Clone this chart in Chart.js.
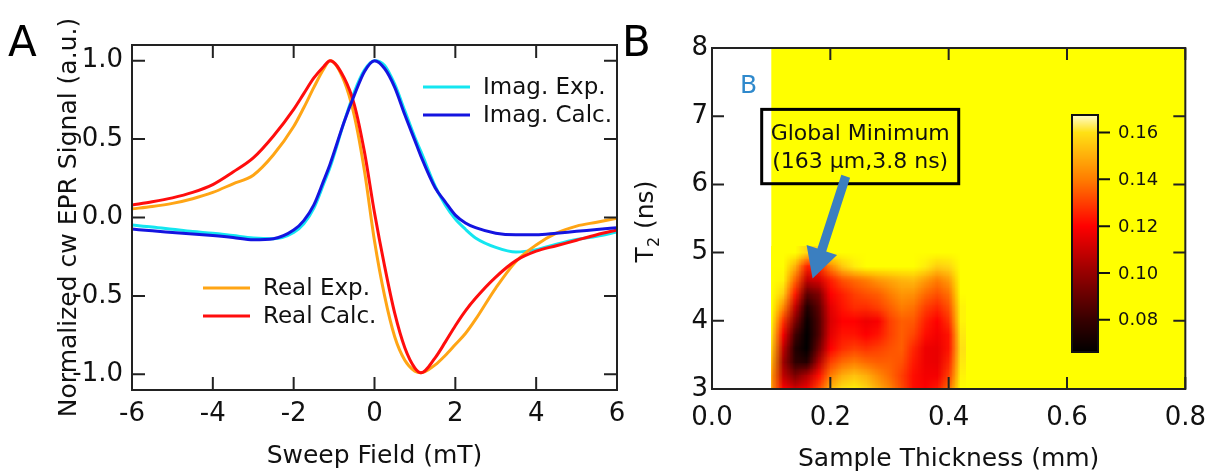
<!DOCTYPE html>
<html>
<head>
<meta charset="utf-8">
<script src="https://cdn.jsdelivr.net/npm/chart.js@4.4.1/dist/chart.umd.min.js"></script>
<style>
  html, body { margin: 0; padding: 0; background: #fff; }
  body { width: 1220px; height: 474px; position: relative; overflow: hidden; }
  canvas { position: absolute; top: 0; }
  #chartA { left: 0; }
  #chartB { left: 620px; }
</style>
</head>
<body>
<canvas id="chartA" width="640" height="474"></canvas>
<canvas id="chartB" width="600" height="474"></canvas>
<script>
// Painel A: campo de varredura (mT) e sinais normalizados
const sweepField = [-6, -5.5, -5, -4.5, -4, -3.5, -3, -2.5, -2, -1.75, -1.5, -1.25, -1.1, -0.75, -0.5, -0.25, 0, 0.25, 0.5, 0.75, 1, 1.15, 1.5, 1.75, 2, 2.25, 2.5, 3, 3.5, 4, 4.5, 5, 5.5, 6];
const imagExp  = [-0.048, -0.06, -0.075, -0.09, -0.10, -0.115, -0.13, -0.135, -0.095, -0.04, 0.06, 0.22, 0.32, 0.61, 0.80, 0.94, 1.0, 0.97, 0.85, 0.68, 0.51, 0.42, 0.20, 0.08, -0.01, -0.075, -0.13, -0.19, -0.22, -0.205, -0.17, -0.14, -0.12, -0.093];
const imagCalc = [-0.074, -0.085, -0.095, -0.105, -0.115, -0.127, -0.142, -0.135, -0.08, -0.02, 0.08, 0.24, 0.34, 0.61, 0.78, 0.93, 1.0, 0.95, 0.83, 0.655, 0.49, 0.39, 0.19, 0.10, 0.015, -0.035, -0.065, -0.10, -0.11, -0.11, -0.10, -0.088, -0.077, -0.065];
const realExp  = [0.055, 0.07, 0.09, 0.12, 0.16, 0.215, 0.27, 0.40, 0.58, 0.70, 0.83, 0.95, 1.0, 0.87, 0.65, 0.30, -0.15, -0.50, -0.76, -0.91, -0.98, -0.99, -0.94, -0.88, -0.81, -0.74, -0.65, -0.45, -0.28, -0.175, -0.10, -0.055, -0.03, -0.005];
const realCalc = [0.08, 0.10, 0.125, 0.16, 0.21, 0.29, 0.38, 0.52, 0.69, 0.79, 0.89, 0.965, 1.0, 0.89, 0.72, 0.42, 0.03, -0.31, -0.61, -0.83, -0.96, -0.99, -0.895, -0.795, -0.69, -0.595, -0.515, -0.38, -0.275, -0.215, -0.18, -0.145, -0.11, -0.08];

// Painel B: mapa do erro (espessura em mm x T2 em ns)
const thickness = [0.10, 0.12, 0.14, 0.16, 0.18, 0.20, 0.22, 0.24, 0.26, 0.28, 0.30, 0.32, 0.34, 0.36, 0.38, 0.40, 0.42];
const t2Values = [3.0, 3.2, 3.4, 3.6, 3.8, 4.0, 4.2, 4.4, 4.6, 4.8, 5.0];
const misfit = [
  [0.145, 0.120, 0.112, 0.118, 0.132, 0.152, 0.160, 0.164, 0.158, 0.150, 0.142, 0.132, 0.122, 0.120, 0.124, 0.138, 0.168],
  [0.145, 0.108, 0.095, 0.105, 0.122, 0.140, 0.150, 0.154, 0.150, 0.143, 0.137, 0.130, 0.122, 0.118, 0.118, 0.130, 0.165],
  [0.150, 0.102, 0.078, 0.075, 0.105, 0.130, 0.137, 0.140, 0.137, 0.135, 0.135, 0.133, 0.124, 0.117, 0.116, 0.126, 0.162],
  [0.155, 0.108, 0.075, 0.066, 0.092, 0.120, 0.127, 0.130, 0.128, 0.130, 0.133, 0.135, 0.126, 0.117, 0.116, 0.123, 0.160],
  [0.160, 0.118, 0.082, 0.066, 0.085, 0.115, 0.123, 0.123, 0.120, 0.123, 0.130, 0.135, 0.131, 0.122, 0.118, 0.123, 0.162],
  [0.165, 0.128, 0.095, 0.068, 0.085, 0.113, 0.120, 0.120, 0.117, 0.119, 0.130, 0.135, 0.134, 0.125, 0.120, 0.128, 0.165],
  [0.168, 0.142, 0.108, 0.074, 0.088, 0.115, 0.123, 0.127, 0.127, 0.130, 0.135, 0.140, 0.138, 0.130, 0.126, 0.133, 0.165],
  [0.170, 0.156, 0.124, 0.088, 0.095, 0.120, 0.125, 0.130, 0.133, 0.135, 0.140, 0.145, 0.144, 0.137, 0.133, 0.138, 0.168],
  [0.170, 0.165, 0.136, 0.108, 0.112, 0.125, 0.133, 0.137, 0.140, 0.145, 0.148, 0.151, 0.152, 0.146, 0.140, 0.146, 0.170],
  [0.170, 0.170, 0.150, 0.125, 0.126, 0.142, 0.155, 0.163, 0.168, 0.170, 0.170, 0.170, 0.168, 0.163, 0.156, 0.158, 0.170],
  [0.170, 0.170, 0.168, 0.158, 0.160, 0.168, 0.170, 0.170, 0.170, 0.170, 0.170, 0.170, 0.170, 0.170, 0.170, 0.170, 0.170]
];
const scanStart = 0.10;   // menor espessura calculada
const misfitOver = 0.17;  // acima da escala de cores
const barTicks = [0.08, 0.10, 0.12, 0.14, 0.16];
const barRange = [0.0662, 0.1675];
const globalMin = { label: ['Global Minimum', '(163 μm,3.8 ns)'] };

// Tabela de cores (estilo "YellowHot")
const heatStops = [
  [0.066, [0, 0, 0]],
  [0.08, [55, 0, 0]],
  [0.10, [150, 0, 0]],
  [0.12, [255, 0, 0]],
  [0.14, [255, 125, 0]],
  [0.16, [255, 225, 20]],
  [0.168, [255, 255, 0]]
];
const barStops = heatStops.slice(0, -1).concat([[0.1675, [255, 252, 205]]]);

function stopColor(stops, v) {
  if (v <= stops[0][0]) return stops[0][1];
  for (let i = 1; i < stops.length; i++) {
    if (v <= stops[i][0]) {
      const [v0, c0] = stops[i - 1];
      const [v1, c1] = stops[i];
      const t = (v - v0) / (v1 - v0);
      return c0.map((c, k) => Math.round(c + (c1[k] - c) * t));
    }
  }
  return stops[stops.length - 1][1];
}
const rgb = c => `rgb(${c[0]},${c[1]},${c[2]})`;

Chart.defaults.font.family = '"DejaVu Sans", sans-serif';
Chart.defaults.color = '#111';

// Moldura com marcas para dentro nos quatro lados
const framePlugin = {
  id: 'frame',
  afterDraw(chart, args, opts) {
    const { ctx, chartArea: a, scales: { x, y } } = chart;
    ctx.save();
    ctx.strokeStyle = '#222';
    ctx.lineWidth = 2;
    ctx.beginPath();
    x.ticks.forEach(t => {
      const px = x.getPixelForValue(t.value);
      ctx.moveTo(px, a.bottom); ctx.lineTo(px, a.bottom - opts.tick);
      ctx.moveTo(px, a.top); ctx.lineTo(px, a.top + opts.tick);
    });
    y.ticks.forEach(t => {
      const py = y.getPixelForValue(t.value);
      ctx.moveTo(a.left, py); ctx.lineTo(a.left + opts.tick, py);
      ctx.moveTo(a.right, py); ctx.lineTo(a.right - opts.tick, py);
    });
    ctx.stroke();
    ctx.strokeRect(a.left, a.top, a.width, a.height);
    ctx.restore();
  }
};

// Letra do painel
const panelLabelPlugin = {
  id: 'panelLabel',
  afterDraw(chart, args, opts) {
    const ctx = chart.ctx;
    ctx.save();
    ctx.font = '42px "DejaVu Sans"';
    ctx.fillStyle = '#000';
    ctx.textBaseline = 'alphabetic';
    ctx.fillText(opts.text, opts.x, opts.y);
    ctx.restore();
  }
};

// Legenda dividida em dois grupos dentro do gráfico
const splitLegendPlugin = {
  id: 'splitLegend',
  afterDatasetsDraw(chart, args, opts) {
    const ctx = chart.ctx;
    ctx.save();
    ctx.font = '23px "DejaVu Sans"';
    ctx.textBaseline = 'middle';
    opts.groups.forEach(g => g.items.forEach((idx, k) => {
      const ds = chart.data.datasets[idx];
      const yy = g.y + k * opts.gap;
      ctx.strokeStyle = ds.borderColor;
      ctx.lineWidth = 3;
      ctx.beginPath();
      ctx.moveTo(g.x, yy);
      ctx.lineTo(g.x + 47, yy);
      ctx.stroke();
      ctx.fillStyle = '#111';
      ctx.fillText(ds.label, g.x + 60, yy + 1.5);
    }));
    ctx.restore();
  }
};

// Mapa de cores, anotação e barra de cores
const heatmapPlugin = {
  id: 'heatmap',
  beforeDatasetsDraw(chart) {
    const { ctx, chartArea: a, scales: { x, y } } = chart;
    const x0 = x.getPixelForValue(scanStart);
    ctx.save();
    ctx.beginPath();
    ctx.rect(x0, a.top, a.right - x0, a.height);
    ctx.clip();
    ctx.fillStyle = rgb(stopColor(heatStops, misfitOver));
    ctx.fillRect(x0, a.top, a.right - x0, a.height);

    const off = document.createElement('canvas');
    off.width = thickness.length;
    off.height = t2Values.length;
    const octx = off.getContext('2d');
    const img = octx.createImageData(off.width, off.height);
    misfit.forEach((row, j) => row.forEach((v, i) => {
      const c = stopColor(heatStops, v);
      const k = ((off.height - 1 - j) * off.width + i) * 4;
      img.data[k] = c[0]; img.data[k + 1] = c[1]; img.data[k + 2] = c[2]; img.data[k + 3] = 255;
    }));
    octx.putImageData(img, 0, 0);
    const hx = (thickness[1] - thickness[0]) / 2;
    const hy = (t2Values[1] - t2Values[0]) / 2;
    const left = x.getPixelForValue(thickness[0] - hx);
    const right = x.getPixelForValue(thickness[thickness.length - 1] + hx);
    const top = y.getPixelForValue(t2Values[t2Values.length - 1] + hy);
    const bottom = y.getPixelForValue(t2Values[0] - hy);
    ctx.imageSmoothingEnabled = true;
    ctx.drawImage(off, left, top, right - left, bottom - top);
    ctx.restore();
  },
  afterDatasetsDraw(chart, args, opts) {
    const { ctx, scales: { x, y } } = chart;
    ctx.save();

    // letra azul dentro do gráfico
    ctx.fillStyle = '#2f89cc';
    ctx.font = '25px "DejaVu Sans"';
    ctx.textAlign = 'center';
    ctx.textBaseline = 'middle';
    ctx.fillText('B', x.getPixelForValue(0.062), y.getPixelForValue(7.43));

    // caixa da anotação
    const bx0 = x.getPixelForValue(opts.box[0]), bx1 = x.getPixelForValue(opts.box[2]);
    const by0 = y.getPixelForValue(opts.box[1]), by1 = y.getPixelForValue(opts.box[3]);
    ctx.lineWidth = 3;
    ctx.strokeStyle = '#000';
    ctx.strokeRect(bx0, by0, bx1 - bx0, by1 - by0);
    ctx.fillStyle = '#111';
    ctx.font = '22px "DejaVu Sans"';
    globalMin.label.forEach((t, i) => ctx.fillText(t, (bx0 + bx1) / 2, by0 + 25 + i * 28));

    // seta
    const tx = x.getPixelForValue(opts.arrow[0]), ty = y.getPixelForValue(opts.arrow[1]);
    const hx = x.getPixelForValue(opts.arrow[2]), hy = y.getPixelForValue(opts.arrow[3]);
    const len = Math.hypot(hx - tx, hy - ty);
    const ux = (hx - tx) / len, uy = (hy - ty) / len;
    const nx = -uy, ny = ux;
    const sw = 4.6, hl = 30, hw = 16;
    const bxp = hx - ux * hl, byp = hy - uy * hl;
    ctx.fillStyle = '#3b7fc0';
    ctx.beginPath();
    ctx.moveTo(tx + nx * sw, ty + ny * sw);
    ctx.lineTo(bxp + nx * sw, byp + ny * sw);
    ctx.lineTo(bxp + nx * hw, byp + ny * hw);
    ctx.lineTo(hx, hy);
    ctx.lineTo(bxp - nx * hw, byp - ny * hw);
    ctx.lineTo(bxp - nx * sw, byp - ny * sw);
    ctx.lineTo(tx - nx * sw, ty - ny * sw);
    ctx.closePath();
    ctx.fill();

    // barra de cores
    const cx0 = Math.round(x.getPixelForValue(opts.bar[0])), cx1 = Math.round(x.getPixelForValue(opts.bar[2]));
    const cy0 = Math.round(y.getPixelForValue(opts.bar[1])), cy1 = Math.round(y.getPixelForValue(opts.bar[3]));
    const vPix = v => cy1 - (v - barRange[0]) / (barRange[1] - barRange[0]) * (cy1 - cy0);
    for (let py = cy0; py < cy1; py++) {
      const v = barRange[1] - (py + 0.5 - cy0) / (cy1 - cy0) * (barRange[1] - barRange[0]);
      ctx.fillStyle = rgb(stopColor(barStops, v));
      ctx.fillRect(cx0, py, cx1 - cx0, 1);
    }
    ctx.lineWidth = 2;
    ctx.strokeStyle = '#111';
    ctx.strokeRect(cx0, cy0, cx1 - cx0, cy1 - cy0);
    ctx.beginPath();
    barTicks.forEach(v => { ctx.moveTo(cx1, vPix(v)); ctx.lineTo(cx1 + 12, vPix(v)); });
    ctx.stroke();
    ctx.fillStyle = '#111';
    ctx.font = '18px "DejaVu Sans"';
    ctx.textAlign = 'left';
    barTicks.forEach(v => ctx.fillText(v.toFixed(2), cx1 + 20, vPix(v) + 1));
    ctx.restore();
  }
};

// Título do eixo y do painel B com subscrito
const t2TitlePlugin = {
  id: 't2Title',
  afterDraw(chart, args, opts) {
    const ctx = chart.ctx;
    const big = '25px "DejaVu Sans"', small = '16px "DejaVu Sans"';
    ctx.save();
    ctx.font = big;
    const wT = ctx.measureText('T').width;
    const wRest = ctx.measureText(' (ns)').width;
    ctx.font = small;
    const w2 = ctx.measureText('2').width;
    const total = wT + w2 + wRest;
    const cy = (chart.chartArea.top + chart.chartArea.bottom) / 2 + 3;
    ctx.translate(opts.x, cy + total / 2);
    ctx.rotate(-Math.PI / 2);
    ctx.fillStyle = '#111';
    ctx.textBaseline = 'alphabetic';
    ctx.font = big;
    ctx.fillText('T', 0, 0);
    ctx.font = small;
    ctx.fillText('2', wT, 6);
    ctx.font = big;
    ctx.fillText(' (ns)', wT + w2, 0);
    ctx.restore();
  }
};

function lineSet(label, ys, color, order) {
  return {
    label: label,
    order: order,
    data: sweepField.map((x, i) => ({ x: x, y: ys[i] })),
    borderColor: color,
    borderWidth: 3,
    pointRadius: 0,
    cubicInterpolationMode: 'monotone',
    fill: false
  };
}

const plainGrid = { display: false, drawTicks: false };

new Chart(document.getElementById('chartA'), {
  type: 'line',
  data: {
    datasets: [
      lineSet('Imag. Exp.', imagExp, '#14e6f0', 3),
      lineSet('Imag. Calc.', imagCalc, '#1414e0', 0),
      lineSet('Real Exp.', realExp, '#ffa515', 2),
      lineSet('Real Calc.', realCalc, '#ff0d0d', 1)
    ]
  },
  options: {
    responsive: false,
    animation: false,
    devicePixelRatio: 1,
    layout: { padding: { top: 45, right: 23, left: 0, bottom: 0 } },
    scales: {
      x: {
        type: 'linear', min: -6, max: 6,
        ticks: { stepSize: 2, font: { size: 26 }, padding: 9, maxRotation: 0, callback: v => String(v) },
        grid: plainGrid, border: { display: false },
        title: { display: true, text: 'Sweep Field (mT)', font: { size: 25 }, padding: { top: 0, bottom: 3 } },
        afterFit: s => { s.height = 84; }
      },
      y: {
        type: 'linear', min: -1.1, max: 1.1,
        ticks: { stepSize: 0.5, includeBounds: false, font: { size: 26 }, padding: 9, callback: v => v.toFixed(1) },
        grid: plainGrid, border: { display: false },
        title: { display: true, text: 'Normalized cw EPR Signal (a.u.)', font: { size: 25 }, padding: { top: 54, bottom: 0 } },
        afterFit: s => { s.width = 132; }
      }
    },
    plugins: {
      legend: { display: false },
      tooltip: { enabled: false },
      frame: { tick: 13 },
      panelLabel: { text: 'A', x: 8, y: 56 },
      splitLegend: { gap: 28, groups: [{ x: 423, y: 87, items: [0, 1] }, { x: 203, y: 288, items: [2, 3] }] }
    }
  },
  plugins: [framePlugin, panelLabelPlugin, splitLegendPlugin]
});

new Chart(document.getElementById('chartB'), {
  type: 'scatter',
  data: { datasets: [] },
  options: {
    responsive: false,
    animation: false,
    devicePixelRatio: 1,
    layout: { padding: { top: 48, right: 21, left: 0, bottom: 0 } },
    scales: {
      x: {
        type: 'linear', min: 0, max: 0.8,
        ticks: { stepSize: 0.2, font: { size: 26 }, padding: 14, maxRotation: 0, callback: v => v.toFixed(1) },
        grid: plainGrid, border: { display: false },
        title: { display: true, text: 'Sample Thickness (mm)', font: { size: 25 }, padding: { top: 0, bottom: 0 } },
        afterFit: s => { s.height = 85; }
      },
      y: {
        type: 'linear', min: 3, max: 8,
        ticks: { stepSize: 1, font: { size: 26 }, padding: 4, callback: v => String(v) },
        grid: plainGrid, border: { display: false },
        afterFit: s => { s.width = 92; }
      }
    },
    plugins: {
      legend: { display: false },
      tooltip: { enabled: false },
      frame: { tick: 12 },
      panelLabel: { text: 'B', x: 2, y: 56 },
      t2Title: { x: 33 },
      heatmap: {
        box: [0.084, 7.10, 0.417, 6.01],
        arrow: [0.226, 6.12, 0.170, 4.62],
        bar: [0.608, 7.018, 0.6524, 3.538]
      }
    }
  },
  plugins: [heatmapPlugin, framePlugin, panelLabelPlugin, t2TitlePlugin]
});
</script>
</body>
</html>
